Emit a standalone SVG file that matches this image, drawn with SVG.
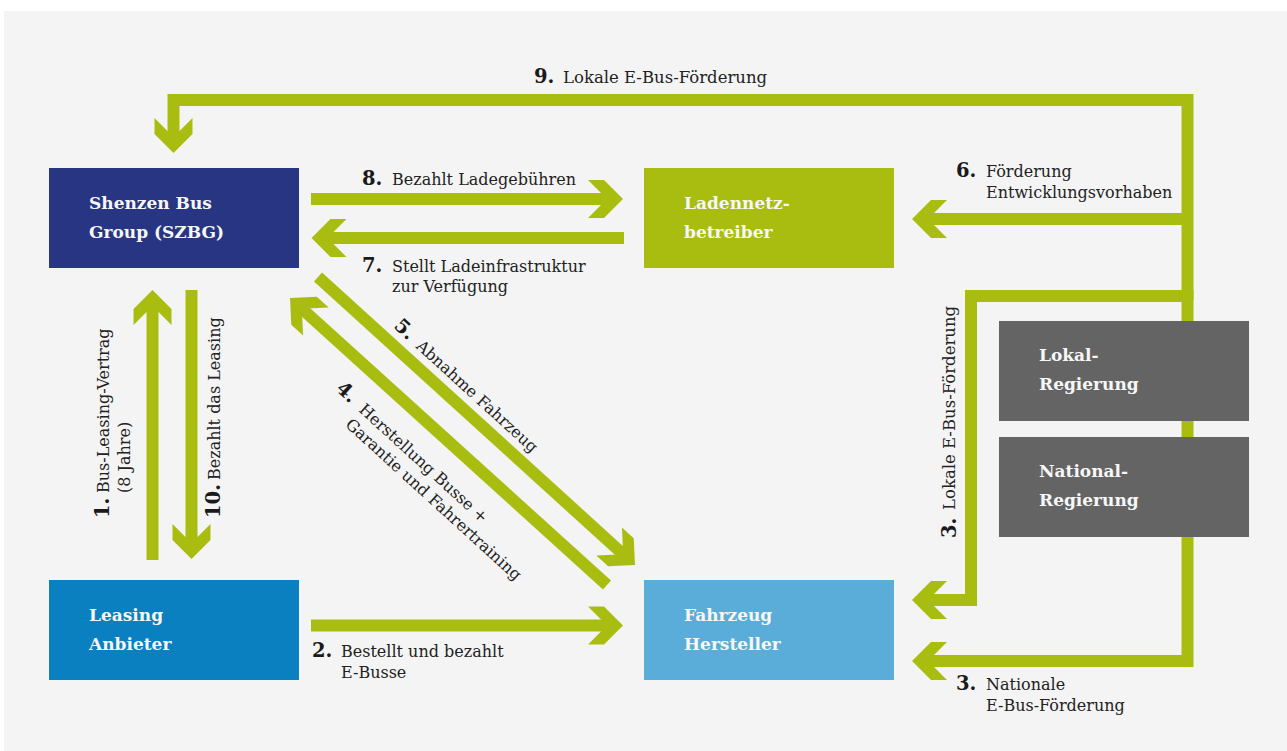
<svg xmlns="http://www.w3.org/2000/svg" xmlns:xlink="http://www.w3.org/1999/xlink" width="1287" height="751" viewBox="0 0 1287 751">
  <style>
    .node-label { font-family: "DejaVu Serif", "Liberation Serif", serif; font-weight: bold; font-size: 17px; fill: #f7f7f7; }
    .lbl { font-family: "DejaVu Serif", "Liberation Serif", serif; font-size: 16px; fill: #222222; }
    .num { font-family: "DejaVu Serif", "Liberation Serif", serif; font-weight: bold; font-size: 19.5px; fill: #1a1a1a; }
    .flow { fill: none; stroke: #a9bd11; stroke-width: 12; stroke-linejoin: miter; }
    .head { fill: #a9bd11; }
  </style>
  <defs>
    <!-- chevron arrowhead, tip at origin, pointing along +x -->
    <path id="hd" class="head" d="M0,0 L-19,-19 L-35,-19 L-16,0 L-35,19 L-19,19 Z"/>
  </defs>

  <!-- page and panel -->
  <rect x="0" y="0" width="1287" height="751" fill="#ffffff"/>
  <rect x="4" y="11" width="1283" height="740" fill="#f4f4f4"/>

  <!-- connectors -->
  <g id="connectors">
    <!-- 9: local subsidy back to SZBG -->
    <path class="flow" d="M1187.5,300 V100 H173.5 V140"/>
    <use xlink:href="#hd" transform="translate(173.5,153) rotate(90)"/>
    <!-- 3: national subsidy -->
    <path class="flow" d="M1187.5,290 V661 H926" stroke-linejoin="round"/>
    <use xlink:href="#hd" transform="translate(912,661) rotate(180)"/>
    <!-- 6: development funding -->
    <path class="flow" d="M1187.5,219 H926"/>
    <use xlink:href="#hd" transform="translate(912,219) rotate(180)"/>
    <!-- 3: local e-bus subsidy -->
    <path class="flow" d="M1187.5,296 H971 V600 H926"/>
    <use xlink:href="#hd" transform="translate(912,600) rotate(180)"/>
    <!-- 8 / 7 -->
    <path class="flow" d="M311,199 H609"/>
    <use xlink:href="#hd" transform="translate(623,199)"/>
    <path class="flow" d="M624,238 H326"/>
    <use xlink:href="#hd" transform="translate(311.5,238) rotate(180)"/>
    <!-- 1 / 10 -->
    <path class="flow" d="M152.5,560 V304"/>
    <use xlink:href="#hd" transform="translate(152.5,290) rotate(-90)"/>
    <path class="flow" d="M191.5,290 V545"/>
    <use xlink:href="#hd" transform="translate(191.5,559) rotate(90)"/>
    <!-- 2 -->
    <path class="flow" d="M311,625.5 H609"/>
    <use xlink:href="#hd" transform="translate(623,625.5)"/>
    <!-- 5 / 4 diagonals -->
    <path class="flow" d="M318,277 L624.6,555.6"/>
    <use xlink:href="#hd" transform="translate(635,565) rotate(42.3)"/>
    <path class="flow" d="M607,585 L300.4,307.4"/>
    <use xlink:href="#hd" transform="translate(290,298) rotate(222.3)"/>
  </g>

  <!-- nodes -->
  <g id="szbg">
    <rect x="49" y="168" width="250" height="100" fill="#283582"/>
    <text class="node-label" x="89" y="209">Shenzen Bus</text>
    <text class="node-label" x="89" y="238">Group (SZBG)</text>
  </g>
  <g id="ladennetz">
    <rect x="644" y="168" width="250" height="100" fill="#a9bd11"/>
    <text class="node-label" x="684" y="209">Ladennetz-</text>
    <text class="node-label" x="684" y="238">betreiber</text>
  </g>
  <g id="leasing">
    <rect x="49" y="580" width="250" height="100" fill="#0a80c1"/>
    <text class="node-label" x="89" y="621">Leasing</text>
    <text class="node-label" x="89" y="650">Anbieter</text>
  </g>
  <g id="fahrzeug">
    <rect x="644" y="580" width="250" height="100" fill="#5aadd8"/>
    <text class="node-label" x="684" y="621">Fahrzeug</text>
    <text class="node-label" x="684" y="650">Hersteller</text>
  </g>
  <g id="lokal">
    <rect x="999" y="321" width="250" height="100" fill="#646464"/>
    <text class="node-label" x="1039" y="361">Lokal-</text>
    <text class="node-label" x="1039" y="390">Regierung</text>
  </g>
  <g id="national">
    <rect x="999" y="437" width="250" height="100" fill="#646464"/>
    <text class="node-label" x="1039" y="477">National-</text>
    <text class="node-label" x="1039" y="506">Regierung</text>
  </g>

  <!-- connector labels -->
  <g id="labels">
    <text class="num" x="534" y="83">9.</text>
    <text class="lbl" x="563" y="83" style="font-size:16.5px">Lokale E-Bus-Förderung</text>

    <text class="num" x="362" y="185">8.</text>
    <text class="lbl" x="392" y="185">Bezahlt Ladegebühren</text>

    <text class="num" x="362" y="272">7.</text>
    <text class="lbl" x="392" y="272">Stellt Ladeinfrastruktur</text>
    <text class="lbl" x="392" y="292">zur Verfügung</text>

    <text class="num" x="956" y="177">6.</text>
    <text class="lbl" x="986" y="177">Förderung</text>
    <text class="lbl" x="986" y="198">Entwicklungsvorhaben</text>

    <text class="num" x="312" y="657">2.</text>
    <text class="lbl" x="341" y="657">Bestellt und bezahlt</text>
    <text class="lbl" x="341" y="678">E-Busse</text>

    <text class="num" x="956" y="690">3.</text>
    <text class="lbl" x="986" y="690">Nationale</text>
    <text class="lbl" x="986" y="711">E-Bus-Förderung</text>

    <g transform="translate(109,518) rotate(-90)">
      <text class="num" x="0" y="0">1.</text>
      <text class="lbl" x="25" y="0">Bus-Leasing-Vertrag</text>
      <text class="lbl" x="25" y="21">(8 Jahre)</text>
    </g>
    <g transform="translate(220,518) rotate(-90)">
      <text class="num" x="0" y="0">10.</text>
      <text class="lbl" x="38" y="0">Bezahlt das Leasing</text>
    </g>
    <g transform="translate(956,538) rotate(-90)">
      <text class="num" x="0" y="0">3.</text>
      <text class="lbl" x="28" y="-1" style="font-size:16.5px">Lokale E-Bus-Förderung</text>
    </g>

    <g transform="translate(393,327) rotate(42.3)">
      <text class="num" x="0" y="0">5.</text>
      <text class="lbl" x="30" y="0">Abnahme Fahrzeug</text>
    </g>
    <g transform="translate(335,390) rotate(42.3)">
      <text class="num" x="0" y="0">4.</text>
      <text class="lbl" x="31" y="0">Herstellung Busse +</text>
      <text class="lbl" x="31" y="20">Garantie und Fahrertraining</text>
    </g>
  </g>
</svg>
